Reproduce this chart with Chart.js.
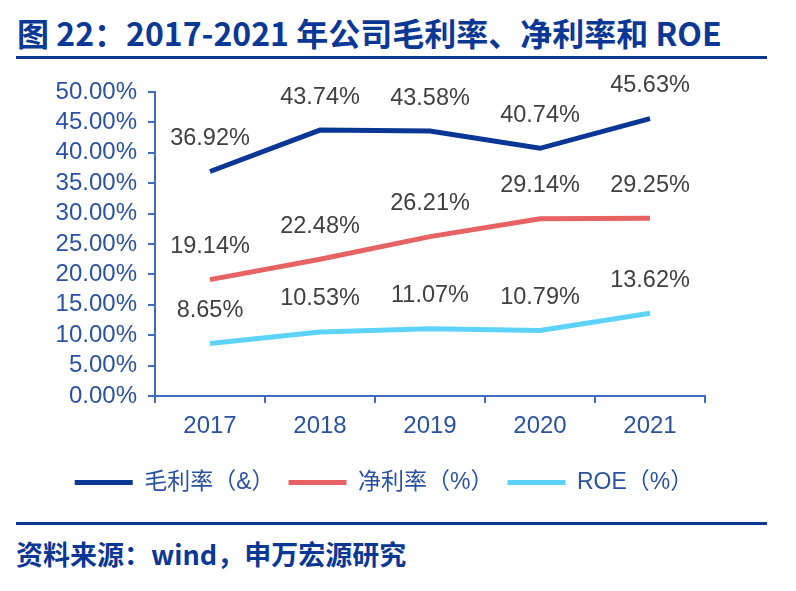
<!DOCTYPE html>
<html>
<head>
<meta charset="utf-8">
<script src="https://cdn.jsdelivr.net/npm/chart.js@4.4.0/dist/chart.umd.min.js"></script>
<style>
    html, body { margin: 0; padding: 0; background: #fff; }
    body { width: 796px; height: 591px; position: relative; overflow: hidden; }
    .title {
        position: absolute; left: 17px; top: 11px;
        font-family: "Noto Sans CJK SC", sans-serif; font-weight: bold;
        font-size: 32px; line-height: 42px; color: #0B3894; white-space: nowrap;
    }
    .rule { position: absolute; left: 16px; width: 751px; height: 3px; background: #0B3894; }
    .source {
        position: absolute; left: 16px; top: 536px;
        font-family: "Noto Sans CJK SC", sans-serif; font-weight: bold;
        font-size: 27px; line-height: 36px; color: #0B3894; white-space: nowrap;
    }
    #wrap { position: absolute; left: 0; top: 66px; width: 796px; height: 450px; }
</style>
</head>
<body>
<div class="title">图 22：2017-2021 年公司毛利率、净利率和 ROE</div>
<div class="rule" style="top:56px"></div>
<div id="wrap"><canvas id="linechart1"></canvas></div>
<div class="rule" style="top:522px"></div>
<div class="source">资料来源：wind，申万宏源研究</div>
<script>
'use strict'
var years = ['2017', '2018', '2019', '2020', '2021'];
var grossMargin = [36.92, 43.74, 43.58, 40.74, 45.63];
var netMargin = [19.14, 22.48, 26.21, 29.14, 29.25];
var roe = [8.65, 10.53, 11.07, 10.79, 13.62];
var seriesNames = ['毛利率（&）', '净利率（%）', 'ROE（%）'];

var axisBlue = '#3F6CC0';
var labelBlue = '#2B52A0';
var fontFamily = '"Liberation Sans", "Noto Sans CJK SC", sans-serif';

/* value labels above points */
var valueLabels = {
    id: 'valueLabels',
    afterDatasetsDraw: function (chart) {
        var ctx = chart.ctx;
        ctx.save();
        ctx.font = '23.5px ' + fontFamily;
        ctx.fillStyle = '#404040';
        ctx.textAlign = 'center';
        ctx.textBaseline = 'middle';
        chart.data.datasets.forEach(function (ds, i) {
            chart.getDatasetMeta(i).data.forEach(function (pt, j) {
                ctx.fillText(ds.data[j].toFixed(2) + '%', pt.x, pt.y - 33);
            });
        });
        ctx.restore();
    }
};

/* centre the legend on the page rather than the plot */
var legendShift = {
    id: 'legendShift',
    afterLayout: function (chart) {
        if (chart.legend) {
            chart.legend.left = 0;
            chart.legend.right = 768;
        }
    }
};

var linechart = document.getElementById('linechart1').getContext('2d');
var mylinechart = new Chart(linechart, {
    type: 'line',
    data: {
        labels: years,
        datasets: [{
            label: seriesNames[0],
            data: grossMargin,
            borderColor: '#0A3795',
            backgroundColor: '#0A3795',
            borderWidth: 5,
            pointRadius: 0,
            fill: false,
            tension: 0
        }, {
            label: seriesNames[1],
            data: netMargin,
            borderColor: '#E76363',
            backgroundColor: '#E76363',
            borderWidth: 5,
            pointRadius: 0,
            fill: false,
            tension: 0
        }, {
            label: seriesNames[2],
            data: roe,
            borderColor: '#5DD3FB',
            backgroundColor: '#5DD3FB',
            borderWidth: 5,
            pointRadius: 0,
            fill: false,
            tension: 0
        }]
    },
    options: {
        responsive: true,
        maintainAspectRatio: false,
        animation: false,
        layout: {
            padding: { top: 26, left: 0, right: 91, bottom: 12 }
        },
        plugins: {
            tooltip: { enabled: false },
            legend: {
                display: true,
                position: 'bottom',
                labels: {
                    boxWidth: 58,
                    boxHeight: 5,
                    padding: 14,
                    color: labelBlue,
                    font: { size: 23, family: fontFamily },
                    generateLabels: function (chart) {
                        return Chart.defaults.plugins.legend.labels.generateLabels(chart).map(function (l) {
                            l.lineWidth = 0;
                            return l;
                        });
                    }
                }
            }
        },
        scales: {
            x: {
                offset: true,
                afterFit: function (s) { s.height = 61; },
                grid: {
                    display: true,
                    offset: true,
                    drawOnChartArea: false,
                    drawTicks: true,
                    tickLength: 7,
                    color: axisBlue,
                    lineWidth: 2
                },
                border: { display: true, color: axisBlue, width: 2 },
                ticks: {
                    color: labelBlue,
                    padding: 9,
                    font: { size: 24, family: fontFamily }
                }
            },
            y: {
                min: 0,
                max: 50,
                afterFit: function (s) { s.width = 155; },
                grid: {
                    display: true,
                    drawOnChartArea: false,
                    drawTicks: true,
                    tickLength: 7,
                    color: axisBlue,
                    lineWidth: 2
                },
                border: { display: true, color: axisBlue, width: 2 },
                ticks: {
                    stepSize: 5,
                    autoSkip: false,
                    color: labelBlue,
                    padding: 11,
                    font: { size: 24, family: fontFamily },
                    callback: function (v) { return v.toFixed(2) + '%'; }
                }
            }
        }
    },
    plugins: [valueLabels, legendShift]
});
</script>
</body>
</html>
